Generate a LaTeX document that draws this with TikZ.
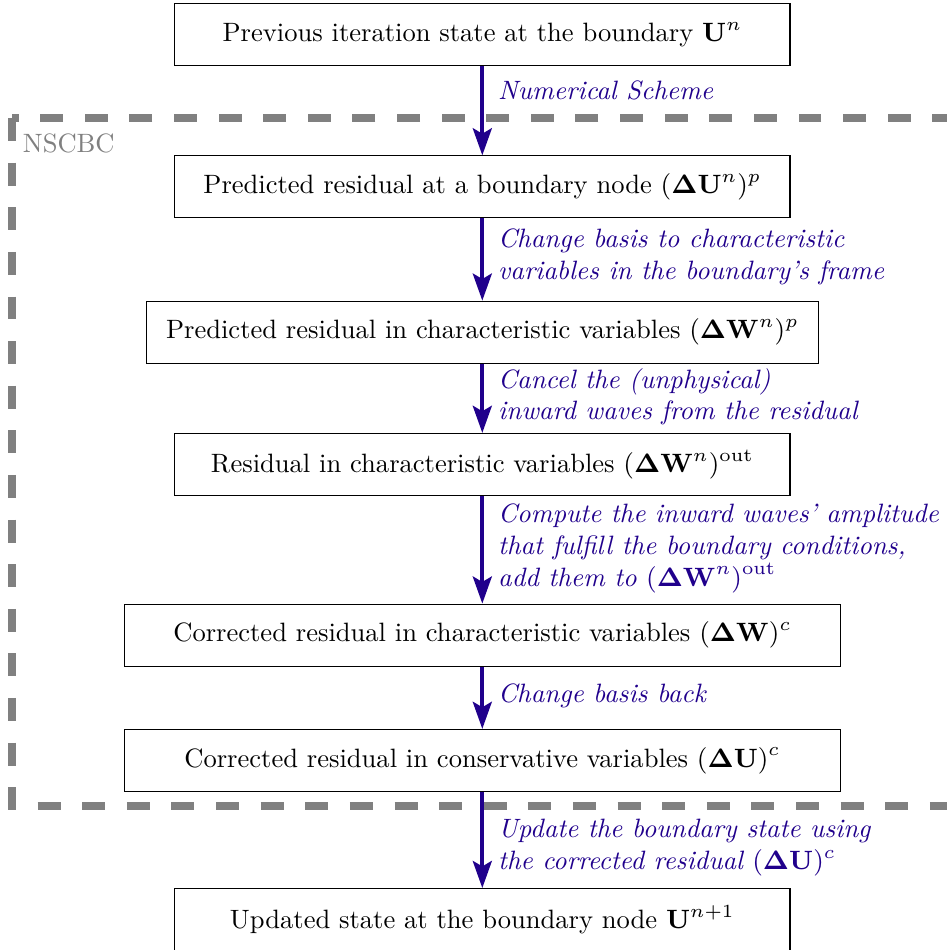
\RequirePackage{fix-cm}
\documentclass[tikz,border=0pt]{standalone}
\usetikzlibrary{arrows.meta, positioning, calc}
\usepackage{amsmath, amssymb}
\usepackage{xcolor}
\definecolor{stepblue}{RGB}{32,0,140}

\begin{document}
\fontsize{9.82}{11.8}\selectfont
\begin{tikzpicture}[
  state/.style={rectangle, draw=black, minimum width=8cm, minimum height=0.805cm,
    text centered},
  wide/.style={state, minimum width=9.31cm},
  arrow/.style={-{Stealth[length=10pt, width=7pt, inset=2pt]}, line width=1.5pt, draw=stepblue},
  note/.style={anchor=west, xshift=0.2cm, align=left, font=\itshape, text=stepblue, inner sep=0pt},
  frame/.style={draw=gray, line width=3pt, dash pattern=on 8.5pt off 8pt}
]
\useasboundingbox (0,0) rectangle (12.3,-12.35);

% states
\node (s0) [state] at (6.27,-0.45) {Previous iteration state at the boundary $\mathbf{U}^n$};
\node (s1) [state, below=1.16cm of s0] {Predicted residual at a boundary node $(\mathbf{\Delta U}^n)^p$};
\node (s2) [state, minimum width=8.74cm, below=1.07cm of s1] {Predicted residual in characteristic variables $(\mathbf{\Delta W}^n)^p$};
\node (s3) [state, below=0.90cm of s2] {Residual in characteristic variables $(\mathbf{\Delta W}^n)^{\mathrm{out}}$};
\node (s4) [wide, below=1.40cm of s3] {Corrected residual in characteristic variables $(\mathbf{\Delta W})^c$};
\node (s5) [wide, below=0.81cm of s4] {Corrected residual in conservative variables $(\mathbf{\Delta U})^c$};
\node (s6) [state, below=1.25cm of s5] {Updated state at the boundary node $\mathbf{U}^{n+1}$};

% NSCBC frame
\draw [frame] (0.156,-1.535) rectangle (13,-10.48);
\node (nscbc) [anchor=north west, text=gray, inner sep=0pt] at (0.29,-1.73) {NSCBC};

% arrows
\draw [arrow] (s0) -- (s1);
\draw [arrow] (s1) -- (s2);
\draw [arrow] (s2) -- (s3);
\draw [arrow] (s3) -- (s4);
\draw [arrow] (s4) -- (s5);
\draw [arrow] (s5) -- (s6);

% labels
\node (n0) [note, yshift=0.26cm] at ($(s0.south)!0.5!(s1.north)$) {Numerical Scheme};
\node (n1) [note, yshift=0.03cm] at ($(s1.south)!0.5!(s2.north)$) {Change basis to characteristic\\variables in the boundary's frame};
\node (n2) [note, yshift=0.02cm] at ($(s2.south)!0.5!(s3.north)$) {Cancel the (unphysical)\\inward waves from the residual};
\node (n3) [note, yshift=0.02cm] at ($(s3.south)!0.5!(s4.north)$) {Compute the inward waves' amplitude\\that fulfill the boundary conditions,\\add them to $(\mathbf{\Delta W}^n)^{\mathrm{out}}$};
\node (n4) [note, yshift=0.03cm] at ($(s4.south)!0.5!(s5.north)$) {Change basis back};
\node (n5) [note, yshift=-0.1cm] at ($(s5.south)!0.5!(s6.north)$) {Update the boundary state using\\the corrected residual $(\mathbf{\Delta U})^c$};

\end{tikzpicture}
\end{document}
